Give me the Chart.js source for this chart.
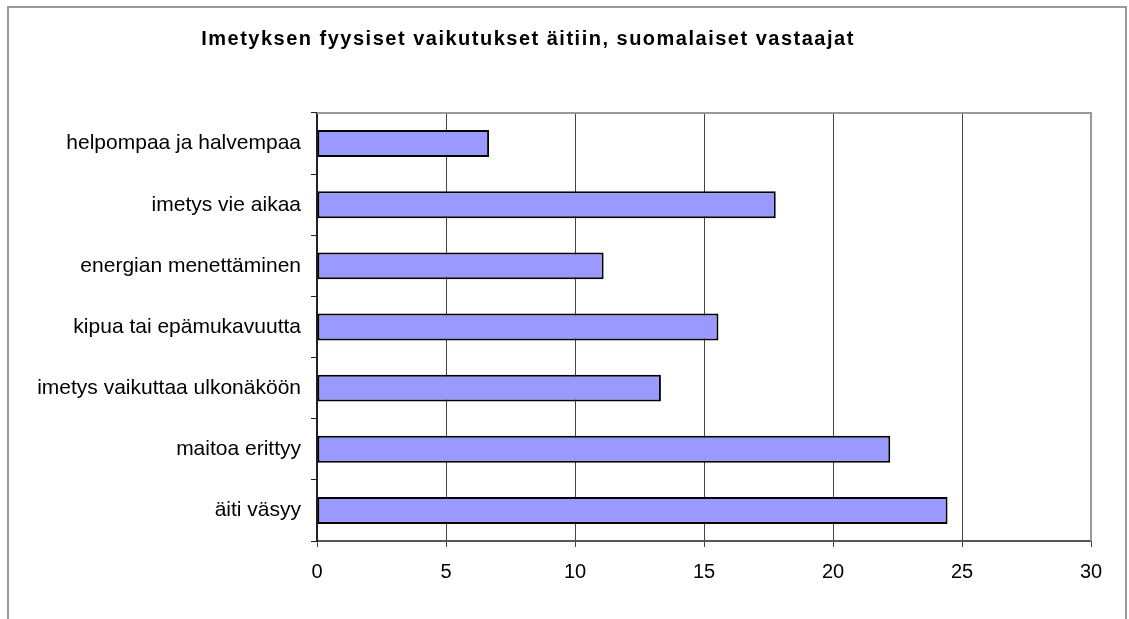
<!DOCTYPE html>
<html>
<head>
<meta charset="utf-8">
<script src="https://cdn.jsdelivr.net/npm/chart.js@4.4.1/dist/chart.umd.min.js"></script>
<style>
    html, body { margin: 0; padding: 0; background: #fff; overflow: hidden; }
    #frame {
        position: absolute; left: 7px; top: 6px;
        width: 1116px; height: 700px;
        border: 2px solid #9a9a9a;
    }
    #wrap { position: absolute; left: 0; top: 0; width: 1129px; height: 619px; }
</style>
</head>
<body>
<div id="frame"></div>
<div id="wrap"><canvas id="imetysChart"></canvas></div>
<script>
    const otsikko = 'Imetyksen fyysiset vaikutukset äitiin, suomalaiset vastaajat';
    const kategoriat = [
        'helpompaa ja halvempaa',
        'imetys vie aikaa',
        'energian menettäminen',
        'kipua tai epämukavuutta',
        'imetys vaikuttaa ulkonäköön',
        'maitoa erittyy',
        'äiti väsyy'
    ];
    const arvot = [6.67, 17.78, 11.11, 15.56, 13.33, 22.22, 24.44];
    const xMin = 0;
    const xMax = 30;
    const xStep = 5;

    // otsikko ja kuva-alueen yläreuna / oikea reuna
    const kehysPlugin = {
        id: 'kehys',
        afterDraw(chart) {
            const { ctx, chartArea } = chart;
            ctx.save();
            ctx.strokeStyle = '#9a9a9a';
            ctx.lineWidth = 2;
            ctx.beginPath();
            ctx.moveTo(chartArea.left, chartArea.top);
            ctx.lineTo(chartArea.right, chartArea.top);
            ctx.lineTo(chartArea.right, chartArea.bottom);
            ctx.stroke();
            ctx.fillStyle = '#000';
            ctx.font = 'bold 20px "Liberation Sans", Arial, sans-serif';
            ctx.letterSpacing = '1.5px';
            ctx.textAlign = 'center';
            ctx.textBaseline = 'alphabetic';
            ctx.fillText(otsikko, 528, 45);
            ctx.restore();
        }
    };

    const ctx = document.getElementById('imetysChart').getContext('2d');
    new Chart(ctx, {
        type: 'bar',
        data: {
            labels: kategoriat,
            datasets: [{
                label: otsikko,
                data: arvot,
                backgroundColor: '#9999ff',
                borderColor: '#000',
                borderWidth: 2,
                borderSkipped: false,
                categoryPercentage: 1,
                barPercentage: 0.44
            }]
        },
        options: {
            indexAxis: 'y',
            responsive: true,
            maintainAspectRatio: false,
            animation: false,
            layout: { padding: { top: 113, right: 38, left: 0, bottom: 0 } },
            plugins: {
                legend: { display: false },
                title: { display: false },
                tooltip: { enabled: false }
            },
            scales: {
                x: {
                    min: xMin,
                    max: xMax,
                    ticks: {
                        stepSize: xStep,
                        color: '#000',
                        padding: 13,
                        font: { family: '"Liberation Sans", Arial, sans-serif', size: 20 }
                    },
                    grid: {
                        color: (c) => (c.tick && c.tick.value === xMax) ? 'rgba(0,0,0,0)' : '#444',
                        lineWidth: 1,
                        tickLength: 6,
                        tickColor: '#444'
                    },
                    border: { color: '#555', width: 2 },
                    afterFit(scale) { scale.height = 78; }
                },
                y: {
                    offset: true,
                    ticks: {
                        color: '#000',
                        padding: 10,
                        font: { family: '"Liberation Sans", Arial, sans-serif', size: 21 }
                    },
                    grid: {
                        offset: true,
                        drawOnChartArea: false,
                        tickLength: 6,
                        tickColor: '#222'
                    },
                    border: { color: '#222', width: 2 },
                    afterFit(scale) { scale.width = 317; }
                }
            }
        },
        plugins: [kehysPlugin]
    });
</script>
</body>
</html>
